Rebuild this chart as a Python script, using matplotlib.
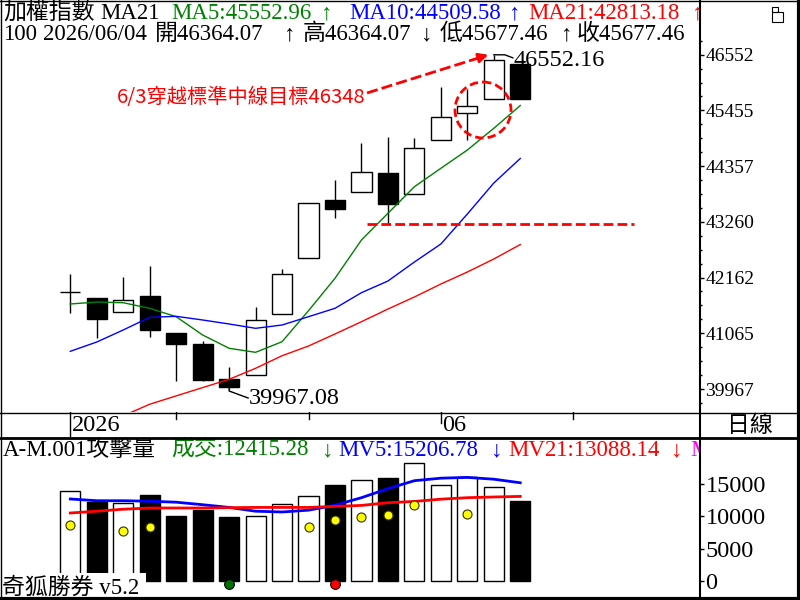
import numpy as np
import matplotlib
matplotlib.use('Agg')
import matplotlib.pyplot as plt
from matplotlib.patches import Rectangle, Ellipse
from matplotlib.lines import Line2D
import matplotlib.transforms as mtransforms

plt.rcParams['font.family'] = ['Liberation Serif', 'Noto Sans CJK TC', 'DejaVu Sans']

# ---------------- data ----------------
dates = ['05/12', '05/13', '05/14', '05/15', '05/18', '05/19', '05/20', '05/21', '05/22',
         '05/25', '05/26', '05/27', '05/28', '05/29', '06/01', '06/02', '06/03', '06/04']
opens = [41872, 41754, 41478, 41799, 41070, 40854, 40164, 40237, 41445,
         42548, 43685, 43843, 44217, 43803, 44873, 45399, 45675, 46364.07]
highs = [42233, 41754, 42174, 42391, 41070, 40913, 40406, 41577, 42326,
         43626, 44085, 44814, 44932, 44907, 45918, 45878, 46552.16, 46364.07]
lows = [41459, 40978, 41478, 40998, 40131, 40131, 39967.08, 40237, 41445,
        42548, 43342, 43843, 43224, 43803, 44873, 44873, 45675, 45677.46]
closes = [41872, 41352, 41715, 41135, 40860, 40150, 40001, 41321, 42227,
          43626, 43520, 44237, 43618, 44710, 45320, 45537, 46449, 45677.46]
ma5 = [41642, 41681, 41667, 41557, 41392, 41031, 40769, 40690, 40899,
       41510, 42148, 42903, 43429, 43953, 44316, 44676, 45104, 45552.96]
ma10 = [40710, 40893, 41130, 41380, 41399, 41327, 41248, 41163, 41228,
        41392, 41557, 41865, 42095, 42469, 42824, 43415, 44026, 44509.58]
ma21 = [39150, 39300, 39440, 39667, 39831, 39995, 40158, 40375, 40623,
        40814, 41051, 41293, 41543, 41780, 42036, 42272, 42529, 42813.18]
volume = [13860, 12230, 12140, 13280, 10000, 10940, 9840, 10110, 11980,
          13080, 14840, 15620, 15940, 18230, 14800, 16140, 14480, 12415.28]
mv5 = [12690, 12420, 12420, 12340, 12190, 11800, 11380, 10790, 10670,
       10950, 11720, 12890, 14290, 15530, 15920, 16040, 15760, 15206.78]
mv21 = [10510, 10790, 11100, 11290, 11290, 11290, 11340, 11380, 11380,
        11380, 11540, 11690, 12110, 12310, 12660, 12890, 13000, 13088.14]
vol_dots = [8700, np.nan, 7650, 8280, np.nan, np.nan, np.nan, np.nan, np.nan,
            8280, 9360, 9940, 10140, 11690, np.nan, 10300, np.nan, np.nan]
buy_signal = [6]
sell_signal = [10]
signal_level = -470
price_ticks = [39967, 41065, 42162, 43260, 44357, 45455, 46552]
vol_ticks = [0, 5000, 10000, 15000]
week_ticks = [4, 9, 14, 19]
month_labels = {14: '06'}
year_label = (0, '2026')
target_idx = 12  # dashed line at this candle's low

# ---------------- figure ----------------
W, H = 800, 600
fig = plt.figure(figsize=(8, 6), dpi=100)
fig.patch.set_facecolor('white')
PX = mtransforms.Affine2D().scale(1, -1).translate(0, H)


def axes_px(x0, y0, x1, y1):
    return fig.add_axes([x0 / W, 1 - y1 / H, (x1 - x0) / W, (y1 - y0) / H])


ax = axes_px(0, 0, 700, 412)
axd = axes_px(0, 412, 700, 437)
axv = axes_px(0, 437, 700, 598)
for a in (ax, axd, axv):
    for s in a.spines.values():
        s.set_visible(False)
    a.set_facecolor('none')
    a.set_xlim(-2.656, 23.79)
    a.set_xticks([])
ax.set_ylim(39514, 47632)
axv.set_ylim(-2686, 22314)
axd.set_ylim(0, 1)
axd.set_yticks([])

n = len(closes)
idx = np.arange(n)
bw = 0.76

# candles
for i in idx:
    o, h, l, c = opens[i], highs[i], lows[i], closes[i]
    up = c >= o
    ax.vlines(i, l, h, color='black', lw=1, zorder=2)
    if o == c:
        ax.hlines(o, i - bw / 2, i + bw / 2, color='black', lw=1, zorder=3)
    else:
        ax.add_patch(Rectangle((i - bw / 2, min(o, c)), bw, abs(c - o),
                               facecolor='white' if up else 'black',
                               edgecolor='black', lw=1, zorder=3))
ax.plot(idx, ma5, color='#008000', lw=1, zorder=4)
ax.plot(idx, ma10, color='#0000ff', lw=1, zorder=4)
ax.plot(idx, ma21, color='#ff0000', lw=1, zorder=4)

# price axis ticks
ax.yaxis.tick_right()
ax.set_yticks(price_ticks)
ax.set_yticklabels([str(t) for t in price_ticks])
step = (price_ticks[1] - price_ticks[0]) / 4
minor = [price_ticks[0] + k * step for k in range(-1, 26) if k % 4 != 0]
ax.set_yticks(minor, minor=True)
ax.tick_params(axis='y', which='major', direction='out', length=3, width=1,
               pad=1, labelsize=14, colors='black')
ax.tick_params(axis='y', which='minor', direction='out', length=1.2, width=1)

# volume
for i in idx:
    up = closes[i] >= opens[i]
    axv.add_patch(Rectangle((i - bw / 2, 0), bw, volume[i],
                            facecolor='white' if up else 'black',
                            edgecolor='black', lw=1, zorder=2))
axv.plot(idx, mv5, color='#0000ff', lw=2, zorder=4)
axv.plot(idx, mv21, color='#ff0000', lw=2, zorder=4)
axv.plot(idx, vol_dots, 'o', ms=6.5, mfc='#ffff00', mec='#333300', mew=0.8, zorder=5, ls='none')
axv.plot(buy_signal, [signal_level] * len(buy_signal), 'o', ms=7, mfc='#007000', mec='black', mew=0.8, zorder=5)
axv.plot(sell_signal, [signal_level] * len(sell_signal), 'o', ms=7, mfc='#ff0000', mec='black', mew=0.8, zorder=5)
axv.yaxis.tick_right()
axv.set_yticks(vol_ticks)
axv.set_yticklabels([str(t) for t in vol_ticks])
axv.tick_params(axis='y', direction='out', length=3, width=1, pad=1,
                labelsize=17.5, colors='black')

# date strip
for t in week_ticks:
    L = 11 / 25 if t in month_labels else 7 / 25
    axd.plot([t, t], [1, 1 - L], color='black', lw=1)
axd.plot([year_label[0], year_label[0]], [0, 1], color='black', lw=1)
axd.text(year_label[0] + 0.07, 0.45, year_label[1], fontsize=17.5, va='center', ha='left')
for t, s in month_labels.items():
    axd.text(t + 0.05, 0.45, s, fontsize=17.5, va='center', ha='left')


# ---------------- texts ----------------
def seg(a, x, y, s, color='black', size=16.5, **kw):
    a.text(x, y, s, transform=PX, color=color, fontsize=size, va='baseline',
           ha='left', clip_on=True, zorder=8, **kw)


G, B, R = '#008000', '#0000ff', '#ff0000'
seg(ax, 3, 19, '加權指數')
seg(ax, 100, 19, 'MA21')
seg(ax, 171, 19, 'MA5:%.2f' % ma5[-1], G)
seg(ax, 321, 19, '↑', G)
seg(ax, 349, 19, 'MA10:%.2f' % ma10[-1], B)
seg(ax, 509, 19, '↑', B)
seg(ax, 528, 19, 'MA21:%.2f' % ma21[-1], R)
seg(ax, 692, 19, '↑', R)

seg(ax, 3, 40, '100')
seg(ax, 43, 40, '2026/' + dates[-1])
seg(ax, 155, 40, '開%.2f' % opens[-1])
seg(ax, 284, 40, '↑')
seg(ax, 303, 40, '高%.2f' % highs[-1])
seg(ax, 421, 40, '↓')
seg(ax, 440, 40, '低%.2f' % lows[-1])
seg(ax, 561, 40, '↑')
seg(ax, 577, 40, '收%.2f' % closes[-1])

seg(axv, 3, 456, 'A-M.001攻擊量')
seg(axv, 171, 456, '成交:%.2f' % volume[-1], G)
seg(axv, 322, 456, '↓', G)
seg(axv, 338, 456, 'MV5:%.2f' % mv5[-1], B)
seg(axv, 491, 456, '↓', B)
seg(axv, 508, 456, 'MV21:%.2f' % mv21[-1], R)
seg(axv, 671, 456, '↓', R)
seg(axv, 690, 456, 'MV', '#ff00ff')

fig.text(750 / W, 1 - 425 / H, '日線', ha='center', va='center', fontsize=16.5,
         family=['Noto Sans CJK TC'])

axv.add_patch(Rectangle((0, 573), 146, 25, transform=PX, facecolor='white',
                        edgecolor='none', zorder=6, clip_on=False))
axv.text(2, 594, '奇狐勝券 v5.2', transform=PX, fontsize=16.5, va='baseline',
         ha='left', zorder=7)


# ---------------- annotations ----------------
def to_img(a, x, y):
    d = a.transData.transform((x, y))
    return d[0], H - d[1]


imax = int(np.argmax(highs))
px0, py0 = to_img(ax, imax, highs[imax])
ax.add_line(Line2D([px0, px0 + 11, px0 + 19], [py0, py0, py0 + 3], transform=PX,
                   color='black', lw=1, zorder=6))
ax.text(px0 + 20, py0 + 6, '%.2f' % highs[imax], transform=PX, fontsize=17.5,
        va='center', ha='left', zorder=7)

imin = int(np.argmin(lows))
qx0, qy0 = to_img(ax, imin, lows[imin])
ax.add_line(Line2D([qx0, qx0, qx0 + 19], [qy0, qy0 + 2, qy0 + 9], transform=PX,
                   color='black', lw=1, zorder=6, clip_on=False))
ax.text(qx0 + 20, qy0 + 9, '%.2f' % lows[imin], transform=PX, fontsize=17.5,
        va='center', ha='left', zorder=7)

ax.hlines(lows[target_idx], 11.2, 21.3, colors='red', lw=2,
          linestyles=(0, (3.5, 1.5)), zorder=5)

ax.add_patch(Ellipse((483, 110), 56, 56, transform=PX, fill=False,
                     edgecolor='red', lw=2, linestyle=(0, (3, 1.5)), zorder=6))
ax.add_line(Line2D([367, 480], [93, 57.5], transform=PX, color='red', lw=2,
                   linestyle=(0, (4, 1.5)), zorder=6))
ax.annotate('', xy=(491, 54), xytext=(478, 58), xycoords=PX, textcoords=PX,
            arrowprops=dict(arrowstyle='-|>', color='red', lw=2, mutation_scale=14))
ax.text(365, 97, '6/3穿越標準中線目標46348', transform=PX, color='red',
        fontsize=14.6, ha='right', va='center', family=['Noto Sans CJK TC'], zorder=7)

# ---------------- frame ----------------
def fline(xs, ys, lw):
    fig.add_artist(Line2D(xs, ys, transform=PX, color='black', lw=lw))


fline([0, 800], [0.5, 0.5], 1)
fline([0.5, 0.5], [0, 600], 1)
fline([798.5, 798.5], [0, 600], 3)
fline([0, 800], [599, 599], 3)
fline([700, 700], [0, 600], 1.5)
fline([0, 798], [412.5, 412.5], 1)
fline([0, 798], [437.5, 437.5], 2)

# window icon top-right
for r in [(772, 2, 11, 10), (772, 2, 6, 5)]:
    fig.add_artist(Rectangle((r[0], r[1] + r[3]), r[2], r[3], transform=PX,
                             fill=False, edgecolor='black', lw=0.8))

fig.savefig('out.png', dpi=100)
